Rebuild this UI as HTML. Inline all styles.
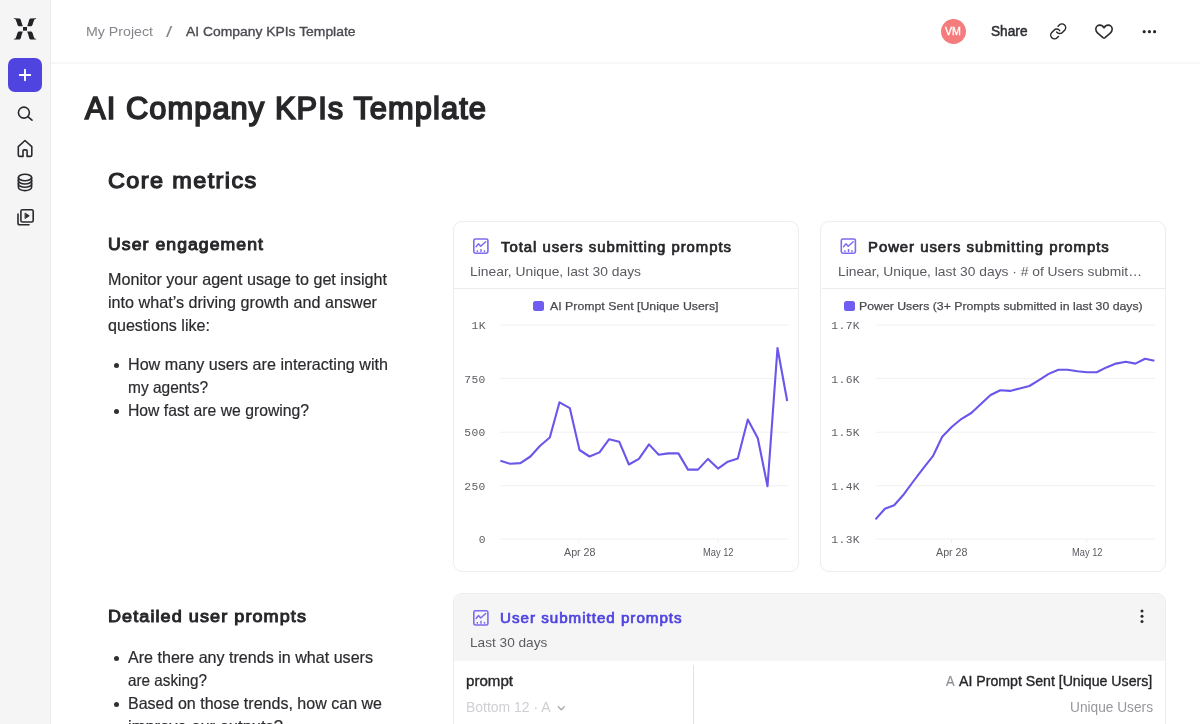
<!DOCTYPE html>
<html lang="en">
<head>
<meta charset="utf-8">
<title>AI Company KPIs Template</title>
<style>
*{box-sizing:border-box;margin:0;padding:0}
html,body{width:1200px;height:724px;overflow:hidden;background:#fff}
body{font-family:"Liberation Sans",sans-serif;color:#2a2a2e;position:relative}
.a{position:absolute;white-space:nowrap;top:0}
#side{position:absolute;left:0;top:0;width:51px;height:724px;background:#f5f5f5;border-right:1px solid #ececec}
#top{position:absolute;left:51px;top:0;width:1149px;height:64px;border-bottom:2.5px solid #f7f7f8;background:#fff}
#plus{position:absolute;left:8px;top:58px;width:34px;height:34px;border-radius:7px;background:#4f44e0}
.crumb{font-size:13.5px;line-height:18px}
.h1{font-size:30.8px;letter-spacing:.035em;-webkit-text-stroke:1.65px #28282b;line-height:40px;color:#26262a}
.h2{font-size:22.8px;letter-spacing:.06em;-webkit-text-stroke:1.25px #28282b;line-height:30px;color:#26262a}
.h3{font-size:17.4px;letter-spacing:.06em;-webkit-text-stroke:1px #28282b;line-height:24px;color:#26262a}
.p{font-size:16.5px;line-height:23px;color:#2b2b2f;-webkit-text-stroke:0.2px}
.dot{position:absolute;width:5px;height:5px;border-radius:50%;background:#303034;left:114px}
.card{position:absolute;border:1px solid #ededf0;border-radius:9px;background:#fff;overflow:hidden}
.ct{font-size:15px;letter-spacing:.065em;-webkit-text-stroke:0.72px;color:#26262a;line-height:20px}
.cs{font-size:13px;color:#5a5a61;line-height:16px}
.lg{font-size:11.5px;color:#4a4a50;line-height:14px;-webkit-text-stroke:0.25px}
.sq{position:absolute;width:11px;height:10px;border-radius:2.5px;background:#6f5cf0}
.m{font-family:"Liberation Mono",monospace;letter-spacing:.4px;font-size:11.3px;line-height:12px;color:#5e5e64}
.xl{font-size:10.5px;line-height:12px;color:#5a5a61}
.sep{position:absolute;height:1px;background:#ececef}
svg{position:absolute;left:0;top:0;overflow:visible}
</style>
</head>
<body>
<div id="side"></div>
<div id="top"></div>
<div id="plus"></div>

<!-- sidebar + topbar icons -->
<svg id="icons" width="1200" height="724" viewBox="0 0 1200 724" fill="none" stroke="#2a2a2e" stroke-width="1.6" stroke-linecap="round" stroke-linejoin="round">
<!-- logo -->
<g fill="#232327" stroke="none" transform="translate(25 28.9)"><path d="M-11.1 -10.7L-5.4 -10.5C-4.2 -10.3 -4 -8.4 -3.6 -6.9L-2.2 -2.7L-6.4 -2.7C-7.5 -3.4 -7.8 -4.9 -8.2 -6.4L-9.4 -9.3C-9.7 -9.7 -10.4 -9.8 -11.1 -9.8Z"/><path d="M-11.1 -10.7L-5.4 -10.5C-4.2 -10.3 -4 -8.4 -3.6 -6.9L-2.2 -2.7L-6.4 -2.7C-7.5 -3.4 -7.8 -4.9 -8.2 -6.4L-9.4 -9.3C-9.7 -9.7 -10.4 -9.8 -11.1 -9.8Z" transform="scale(-1 1)"/><path d="M-11.1 -10.7L-5.4 -10.5C-4.2 -10.3 -4 -8.4 -3.6 -6.9L-2.2 -2.7L-6.4 -2.7C-7.5 -3.4 -7.8 -4.9 -8.2 -6.4L-9.4 -9.3C-9.7 -9.7 -10.4 -9.8 -11.1 -9.8Z" transform="scale(1 -1)"/><path d="M-11.1 -10.7L-5.4 -10.5C-4.2 -10.3 -4 -8.4 -3.6 -6.9L-2.2 -2.7L-6.4 -2.7C-7.5 -3.4 -7.8 -4.9 -8.2 -6.4L-9.4 -9.3C-9.7 -9.7 -10.4 -9.8 -11.1 -9.8Z" transform="scale(-1 -1)"/><rect x="-2" y="-1.9" width="4" height="3.7"/></g>
<!-- plus -->
<path d="M25 69.75V80.25M19.75 75H30.25" stroke="#fff" stroke-width="1.9"/>
<!-- search -->
<circle cx="23.9" cy="112.6" r="5.5"/><path d="M28.1 116.8L32 120.2"/>
<!-- home -->
<path d="M18.3 146.6L25 140.5L31.8 146.6V154.9Q31.8 156.4 30.3 156.4H27.1V151.1Q27.1 149.9 25.9 149.9H24.2Q23 149.9 23 151.1V156.4H19.8Q18.3 156.4 18.3 154.9Z"/>
<!-- database -->
<ellipse cx="25" cy="177.5" rx="6.6" ry="3.3"/>
<path d="M18.4 177.5V187.2C18.4 189.1 21.4 190.6 25 190.6S31.6 189.1 31.6 187.2V177.5"/>
<path d="M18.4 180.6C18.4 182.5 21.4 184 25 184S31.6 182.5 31.6 180.6M18.4 183.9C18.4 185.8 21.4 187.3 25 187.3S31.6 185.8 31.6 183.9"/>
<!-- boards -->
<rect x="20.9" y="209.7" width="12.3" height="12.3" rx="1.6"/>
<path d="M18 214V223Q18 224.8 19.8 224.8H29"/>
<path d="M25.3 213.2L29.3 215.8L25.3 218.4Z" fill="#2a2a2e" stroke-width="0.8"/>
<!-- link -->
<g transform="translate(1049.2 22.35) scale(0.75)" stroke-width="2"><path d="M10 13a5 5 0 0 0 7.54.54l3-3a5 5 0 0 0-7.07-7.07l-1.72 1.71"/><path d="M14 11a5 5 0 0 0-7.54-.54l-3 3a5 5 0 0 0 7.07 7.07l1.71-1.71"/></g>
<!-- heart -->
<path d="M1104 27.8C1103 26 1101.5 25.1 1099.9 25.1C1097.6 25.1 1095.8 26.9 1095.8 29.2C1095.8 31 1096.8 32.2 1098 33.4L1103 37.6Q1104 38.3 1105 37.6L1110 33.4C1111.2 32.2 1112.2 31 1112.2 29.2C1112.2 26.9 1110.4 25.1 1108.1 25.1C1106.5 25.1 1105 26 1104 27.8Z"/>
<!-- dots -->
<g fill="#2a2a2e" stroke="none"><circle cx="1144.200" cy="31.700" r="1.600"/><circle cx="1149.400" cy="31.700" r="1.600"/><circle cx="1154.600" cy="31.700" r="1.600"/></g>
</svg>

<div class="a crumb" style="top:23.20px;transform:scaleX(1.0507);transform-origin:left center;left:85.5px;color:#85858b">My Project</div>
<div class="a crumb" style="top:22.80px;transform:scaleX(1.4609);transform-origin:left center;left:166.3px;color:#85858b;font-size:15.5px">/</div>
<div class="a crumb" style="top:23.20px;transform:scaleX(1.0283);transform-origin:left center;left:186.2px;color:#4a4a50;-webkit-text-stroke:0.35px">AI Company KPIs Template</div>

<div class="a" style="left:941px;top:18.5px;width:25px;height:25px;border-radius:50%;background:#f47c7c"></div>
<div class="a" style="top:25.00px;transform:scaleX(1.0159);transform-origin:left center;left:945.2px;color:#fff;font-size:10.5px;-webkit-text-stroke:0.35px;line-height:12px">VM</div>
<div class="a" style="top:22.20px;transform:scaleX(0.9770);transform-origin:left center;left:991.2px;color:#2e2e33;font-size:14px;-webkit-text-stroke:0.5px;line-height:18px">Share</div>

<div class="a h1" style="top:89.40px;transform:scaleX(1.0003);transform-origin:left center;left:85px">AI Company KPIs Template</div>
<div class="a h2" style="top:165.20px;transform:scaleX(1.0280);transform-origin:left center;left:108px">Core metrics</div>
<div class="a h3" style="top:232.40px;transform:scaleX(1.0136);transform-origin:left center;left:108px">User engagement</div>

<div class="a p" style="top:267.80px;transform:scaleX(0.9780);transform-origin:left center;left:108px">Monitor your agent usage to get insight</div>
<div class="a p" style="top:290.80px;transform:scaleX(0.9787);transform-origin:left center;left:108px">into what’s driving growth and answer</div>
<div class="a p" style="top:313.80px;transform:scaleX(0.9755);transform-origin:left center;left:108px">questions like:</div>

<div class="dot" style="top:362.8px"></div>
<div class="a p" style="top:353.40px;transform:scaleX(0.9776);transform-origin:left center;left:128px">How many users are interacting with</div>
<div class="a p" style="top:376.40px;transform:scaleX(0.9379);transform-origin:left center;left:128px">my agents?</div>
<div class="dot" style="top:408.8px"></div>
<div class="a p" style="top:399.40px;transform:scaleX(0.9534);transform-origin:left center;left:128px">How fast are we growing?</div>

<div class="a h3" style="top:604.00px;transform:scaleX(1.0362);transform-origin:left center;left:108px">Detailed user prompts</div>
<div class="dot" style="top:655.8px"></div>
<div class="a p" style="top:646.40px;transform:scaleX(0.9749);transform-origin:left center;left:128px">Are there any trends in what users</div>
<div class="a p" style="top:669.40px;transform:scaleX(0.9260);transform-origin:left center;left:128px">are asking?</div>
<div class="dot" style="top:701.8px"></div>
<div class="a p" style="top:692.40px;transform:scaleX(0.9716);transform-origin:left center;left:128px">Based on those trends, how can we</div>
<div class="a p" style="top:715.40px;transform:scaleX(0.9999);transform-origin:left center;left:128px">improve our outputs?</div>

<!-- CARDS -->
<div class="card" style="left:452.5px;top:221px;width:346px;height:350.6px"></div>
<div class="card" style="left:820px;top:221px;width:346px;height:350.6px"></div>
<div class="card" style="left:452.5px;top:593px;width:713.5px;height:200px;border-radius:9px 9px 0 0"><div style="height:66.5px;background:#f5f5f5"></div></div>

<svg width="1200" height="724" viewBox="0 0 1200 724" fill="none" stroke-linecap="round" stroke-linejoin="round">
<g stroke="#f0f0f2" stroke-width="1" stroke-linecap="butt"><path d="M500 325H788.5"/><path d="M500 378.6H788.5"/><path d="M500 432.2H788.5"/><path d="M500 485.7H788.5"/><path d="M500 539.1H788.5"/><path d="M578.7 539.1V543"/><path d="M718.1 539.1V543"/></g>
<g stroke="#f0f0f2" stroke-width="1" stroke-linecap="butt"><path d="M876 325H1155"/><path d="M876 378.6H1155"/><path d="M876 432.2H1155"/><path d="M876 485.7H1155"/><path d="M876 539.1H1155"/><path d="M951.6 539.1V543"/><path d="M1086.7 539.1V543"/></g>
<polyline points="500.4,460.7 510.1,463.8 520.4,463.1 530.4,456.5 540.1,445.8 549.8,437.5 559.5,402.3 569.8,408.1 579.5,450.0 589.5,456.5 599.5,452.4 609.2,439.2 619.2,441.7 628.9,464.5 638.9,458.9 649.0,444.4 658.7,454.8 668.3,453.4 678.4,453.4 688.0,469.6 698.0,469.6 708.0,458.9 718.0,468.6 727.8,461.7 737.8,458.6 747.8,419.5 757.8,438.2 767.5,486.2 777.5,348.0 787.2,401.0" stroke="#6956ea" stroke-width="2.1" stroke-linecap="butt"/>
<polyline points="875.5,519.4 884.9,508.7 894.2,505.2 903.9,494.2 913.6,481.0 923.2,468.3 932.9,456.2 942.2,436.8 951.9,426.8 961.6,418.8 971.3,413.0 980.9,404.0 990.6,395.0 1000.3,390.2 1010.0,390.9 1019.7,388.4 1029.4,386.0 1039.0,380.1 1048.7,373.9 1058.4,369.8 1067.7,369.8 1077.4,371.2 1087.0,372.2 1096.7,372.2 1106.4,367.4 1116.0,363.6 1125.8,361.8 1135.4,363.6 1145.1,358.7 1154.4,360.8" stroke="#6956ea" stroke-width="2.1" stroke-linecap="butt"/>
<g transform="translate(473,238.2)" stroke="#7b6bef" stroke-width="1.6"><rect x="0.8" y="0.8" width="14.1" height="14.2" rx="1.6"/><path d="M3.1 8.5L5.5 5.6L7.7 8L12.7 3.5" stroke-width="1.5"/><path d="M4.35 13.7V12M8 13.7V10.7M11.5 13.7V12" stroke-width="1.4" stroke-linecap="butt"/></g>
<g transform="translate(840.5,238.2)" stroke="#7b6bef" stroke-width="1.6"><rect x="0.8" y="0.8" width="14.1" height="14.2" rx="1.6"/><path d="M3.1 8.5L5.5 5.6L7.7 8L12.7 3.5" stroke-width="1.5"/><path d="M4.35 13.7V12M8 13.7V10.7M11.5 13.7V12" stroke-width="1.4" stroke-linecap="butt"/></g>
<g transform="translate(473,610)" stroke="#7b6bef" stroke-width="1.6"><rect x="0.8" y="0.8" width="14.1" height="14.2" rx="1.6"/><path d="M3.1 8.5L5.5 5.6L7.7 8L12.7 3.5" stroke-width="1.5"/><path d="M4.35 13.7V12M8 13.7V10.7M11.5 13.7V12" stroke-width="1.4" stroke-linecap="butt"/></g>
<g fill="#2a2a2e"><circle cx="1142" cy="611" r="1.5"/><circle cx="1142" cy="616.3" r="1.5"/><circle cx="1142" cy="621.6" r="1.5"/></g>
<path d="M558.3 706.8L561.3 709.8L564.3 706.8" stroke="#a6a6ac" stroke-width="1.3"/>
</svg>
<div class="a ct" style="top:236.70px;transform:scaleX(0.9928);transform-origin:left center;left:500.8px">Total users submitting prompts</div>
<div class="a cs" style="top:263.80px;transform:scaleX(1.0658);transform-origin:left center;left:470.3px">Linear, Unique, last 30 days</div>
<div class="sep" style="left:454px;top:288px;width:344px"></div>
<div class="sq" style="left:533px;top:301px"></div>
<div class="a lg" style="top:299.00px;transform:scaleX(1.0716);transform-origin:left center;left:549.5px">AI Prompt Sent [Unique Users]</div>
<div class="a m" style="top:320.10px;right:714.2px">1K</div>
<div class="a m" style="top:373.60px;right:714.2px">750</div>
<div class="a m" style="top:427.10px;right:714.2px">500</div>
<div class="a m" style="top:480.60px;right:714.2px">250</div>
<div class="a m" style="top:534.10px;right:714.2px">0</div>
<div class="a xl" style="top:545.80px;transform:scaleX(1.0182);transform-origin:left center;left:563.8px">Apr 28</div>
<div class="a xl" style="top:545.80px;transform:scaleX(0.8857);transform-origin:left center;left:702.9px">May 12</div>

<div class="a ct" style="top:236.70px;transform:scaleX(0.9926);transform-origin:left center;left:868.3px">Power users submitting prompts</div>
<div class="a cs" style="top:263.80px;transform:scaleX(1.0624);transform-origin:left center;left:837.6px">Linear, Unique, last 30 days · # of Users submit…</div>
<div class="sep" style="left:821.5px;top:288px;width:344px"></div>
<div class="sq" style="left:843.5px;top:301px"></div>
<div class="a lg" style="top:299.00px;transform:scaleX(1.0683);transform-origin:left center;left:859.4px">Power Users (3+ Prompts submitted in last 30 days)</div>
<div class="a m" style="top:320.10px;right:340.0px">1.7K</div>
<div class="a m" style="top:373.60px;right:340.0px">1.6K</div>
<div class="a m" style="top:427.10px;right:340.0px">1.5K</div>
<div class="a m" style="top:480.60px;right:340.0px">1.4K</div>
<div class="a m" style="top:534.10px;right:340.0px">1.3K</div>
<div class="a xl" style="top:545.80px;transform:scaleX(1.0182);transform-origin:left center;left:935.9px">Apr 28</div>
<div class="a xl" style="top:545.80px;transform:scaleX(0.8857);transform-origin:left center;left:1071.5px">May 12</div>

<div class="a ct" style="top:608.40px;transform:scaleX(1.0107);transform-origin:left center;left:499.8px;color:#4f44e0">User submitted prompts</div>
<div class="a cs" style="top:635.40px;transform:scaleX(1.0486);transform-origin:left center;left:469.8px">Last 30 days</div>
<div class="a" style="left:692.8px;top:664.5px;width:1px;height:70px;background:#e2e2e6"></div>
<div class="a" style="top:672.00px;transform:scaleX(1.0785);transform-origin:left center;left:466.3px;font-size:14px;-webkit-text-stroke:0.35px;line-height:18px;color:#26262a">prompt</div>
<div class="a" style="top:698.00px;transform:scaleX(0.9961);transform-origin:left center;left:466.3px;font-size:14px;line-height:18px;color:#cfcfd4">Bottom 12 · A</div>
<div class="a" style="top:672.00px;transform:scaleX(0.9204);transform-origin:left center;left:946px;font-size:14px;line-height:18px;color:#8e8e94;-webkit-text-stroke:0.2px">A</div>
<div class="a" style="top:672.00px;transform:scaleX(1.0093);transform-origin:left center;left:959.3px;font-size:14px;-webkit-text-stroke:0.35px;line-height:18px;color:#26262a">AI Prompt Sent [Unique Users]</div>
<div class="a" style="top:698.40px;transform:scaleX(0.9784);transform-origin:left center;left:1069.5px;font-size:14px;line-height:18px;color:#97979d">Unique Users</div>


</body>
</html>
